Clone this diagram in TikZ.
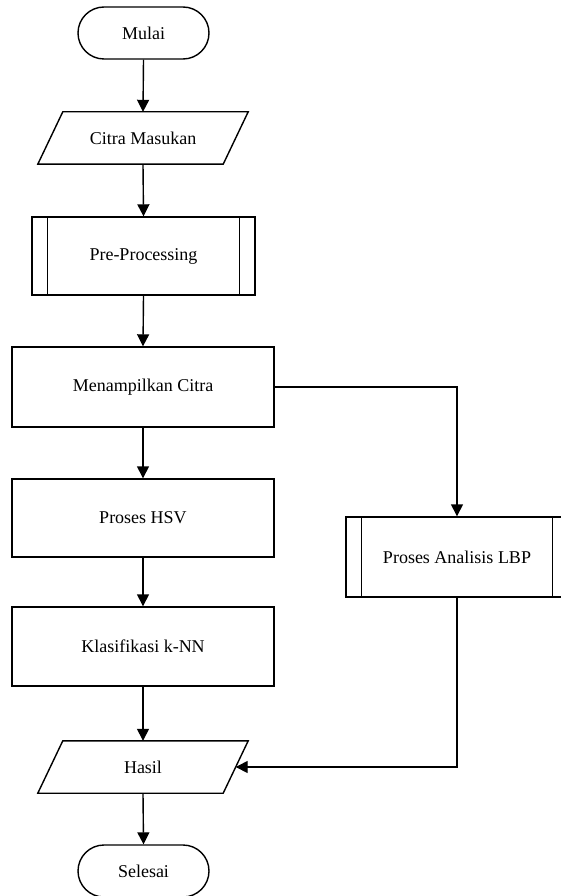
\documentclass[tikz,border=0pt]{standalone}
\usepackage{fontspec}
\setmainfont{Liberation Serif}
\usetikzlibrary{arrows.meta,calc}
\begin{document}
\begin{tikzpicture}[x=1pt,y=-1pt,
  base/.style={draw=black, line width=1.4pt, fill=white, align=center, font=\fontsize{18}{21}\selectfont, inner sep=0pt},
  term/.style={base, rounded corners=26pt, minimum width=131pt, minimum height=52pt},
  proc/.style={base, minimum width=262pt, minimum height=80pt},
  sub/.style={base, minimum width=222pt, minimum height=79pt},
  io/.style={align=center, font=\fontsize{18}{21}\selectfont, inner sep=0pt, minimum width=185pt, minimum height=52pt},
  ln/.style={line width=1.4pt},
  arr/.style={line width=1.4pt, -{Triangle[width=12pt,length=12pt]}}
]
\useasboundingbox (0,0) rectangle (561,896);

\node[term] (mulai) at (143.5,33) {Mulai};
\node[io] (citra) at (143,138) {Citra Masukan};
\draw[ln, fill=white] ([xshift=12.5pt]citra.north west) -- ([xshift=12.5pt]citra.north east) -- ([xshift=-12.5pt]citra.south east) -- ([xshift=-12.5pt]citra.south west) -- cycle;
\node[io] at (citra) {Citra Masukan};
\node[sub, minimum width=223pt, minimum height=78pt] (pre) at (143.5,256) {Pre-Processing};
\draw[ln] ([xshift=16pt]pre.north west) -- ([xshift=16pt]pre.south west);
\draw[ln] ([xshift=-16pt]pre.north east) -- ([xshift=-16pt]pre.south east);
\node[proc] (tampil) at (143,387) {Menampilkan Citra};
\node[proc, minimum height=78pt] (hsv) at (143,518) {Proses HSV};
\node[proc, minimum height=79pt] (knn) at (143,646.5) {Klasifikasi k-NN};
\node[io] (hasil) at (143,767) {Hasil};
\draw[ln, fill=white] ([xshift=12.5pt]hasil.north west) -- ([xshift=12.5pt]hasil.north east) -- ([xshift=-12.5pt]hasil.south east) -- ([xshift=-12.5pt]hasil.south west) -- cycle;
\node[io] at (hasil) {Hasil};
\node[term] (selesai) at (143.5,871) {Selesai};
\node[sub, minimum height=80pt] (lbp) at (457,557) {Proses Analisis LBP};
\draw[ln] ([xshift=16pt]lbp.north west) -- ([xshift=16pt]lbp.south west);
\draw[ln] ([xshift=-16pt]lbp.north east) -- ([xshift=-16pt]lbp.south east);

\draw[arr] (mulai.south) -- (citra.north);
\draw[arr] (citra.south) -- (pre.north);
\draw[arr] (pre.south) -- (tampil.north);
\draw[arr] (tampil.south) -- (hsv.north);
\draw[arr] (hsv.south) -- (knn.north);
\draw[arr] (knn.south) -- (hasil.north);
\draw[arr] (hasil.south) -- (selesai.north);
\draw[arr] (tampil.east) -| (lbp.north);
\draw[arr] (lbp.south) |- (hasil.east);
\end{tikzpicture}
\end{document}
